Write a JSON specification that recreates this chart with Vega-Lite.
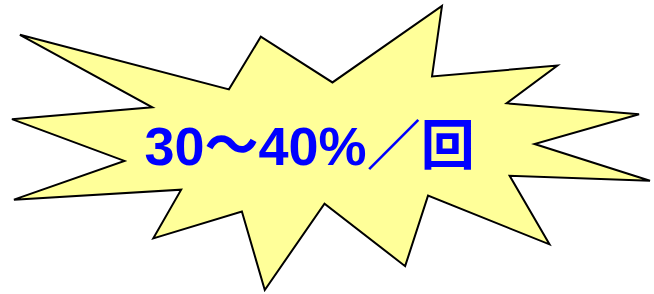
{
  "$schema": "https://vega.github.io/schema/vega-lite/v6.json",
  "width": 654,
  "height": 294,
  "padding": 0,
  "autosize": {"type": "fit", "contains": "padding"},
  "background": "white",
  "config": {"view": {"stroke": null}},
  "datasets": {
    "shape": [
      {"i": 0, "x": 20, "y": 35},
      {"i": 1, "x": 230, "y": 90},
      {"i": 2, "x": 262, "y": 37},
      {"i": 3, "x": 334, "y": 83},
      {"i": 4, "x": 444, "y": 6},
      {"i": 5, "x": 434, "y": 77},
      {"i": 6, "x": 560, "y": 66},
      {"i": 7, "x": 509, "y": 104},
      {"i": 8, "x": 642, "y": 115},
      {"i": 9, "x": 537, "y": 145},
      {"i": 10, "x": 653, "y": 182},
      {"i": 11, "x": 512, "y": 177},
      {"i": 12, "x": 552, "y": 246},
      {"i": 13, "x": 430, "y": 197},
      {"i": 14, "x": 407, "y": 268},
      {"i": 15, "x": 326, "y": 205},
      {"i": 16, "x": 266, "y": 292},
      {"i": 17, "x": 243, "y": 213},
      {"i": 18, "x": 154, "y": 240},
      {"i": 19, "x": 182, "y": 191},
      {"i": 20, "x": 14, "y": 201},
      {"i": 21, "x": 125, "y": 162},
      {"i": 22, "x": 12, "y": 120},
      {"i": 23, "x": 153, "y": 108},
      {"i": 24, "x": 20, "y": 35}
    ],
    "label": [
      {"text": "30～40%／回", "x": 311, "y": 150}
    ]
  },
  "layer": [
    {
      "data": {"name": "shape"},
      "mark": {"type": "line", "fill": "#FFFF99", "stroke": "black", "strokeWidth": 2, "strokeJoin": "miter", "interpolate": "linear-closed"},
      "encoding": {
        "x": {"field": "x", "type": "quantitative", "scale": {"domain": [0, 654], "nice": false, "zero": false}, "axis": null},
        "y": {"field": "y", "type": "quantitative", "scale": {"domain": [0, 294], "reverse": true, "nice": false, "zero": false}, "axis": null},
        "order": {"field": "i", "type": "quantitative"}
      }
    },
    {
      "data": {"name": "label"},
      "mark": {"type": "text", "font": "Liberation Sans, Noto Sans CJK JP", "fontWeight": "bold", "fontSize": 54, "fill": "#0000FF", "align": "center", "baseline": "middle"},
      "encoding": {
        "x": {"field": "x", "type": "quantitative", "axis": null},
        "y": {"field": "y", "type": "quantitative", "axis": null},
        "text": {"field": "text"}
      }
    }
  ]
}
